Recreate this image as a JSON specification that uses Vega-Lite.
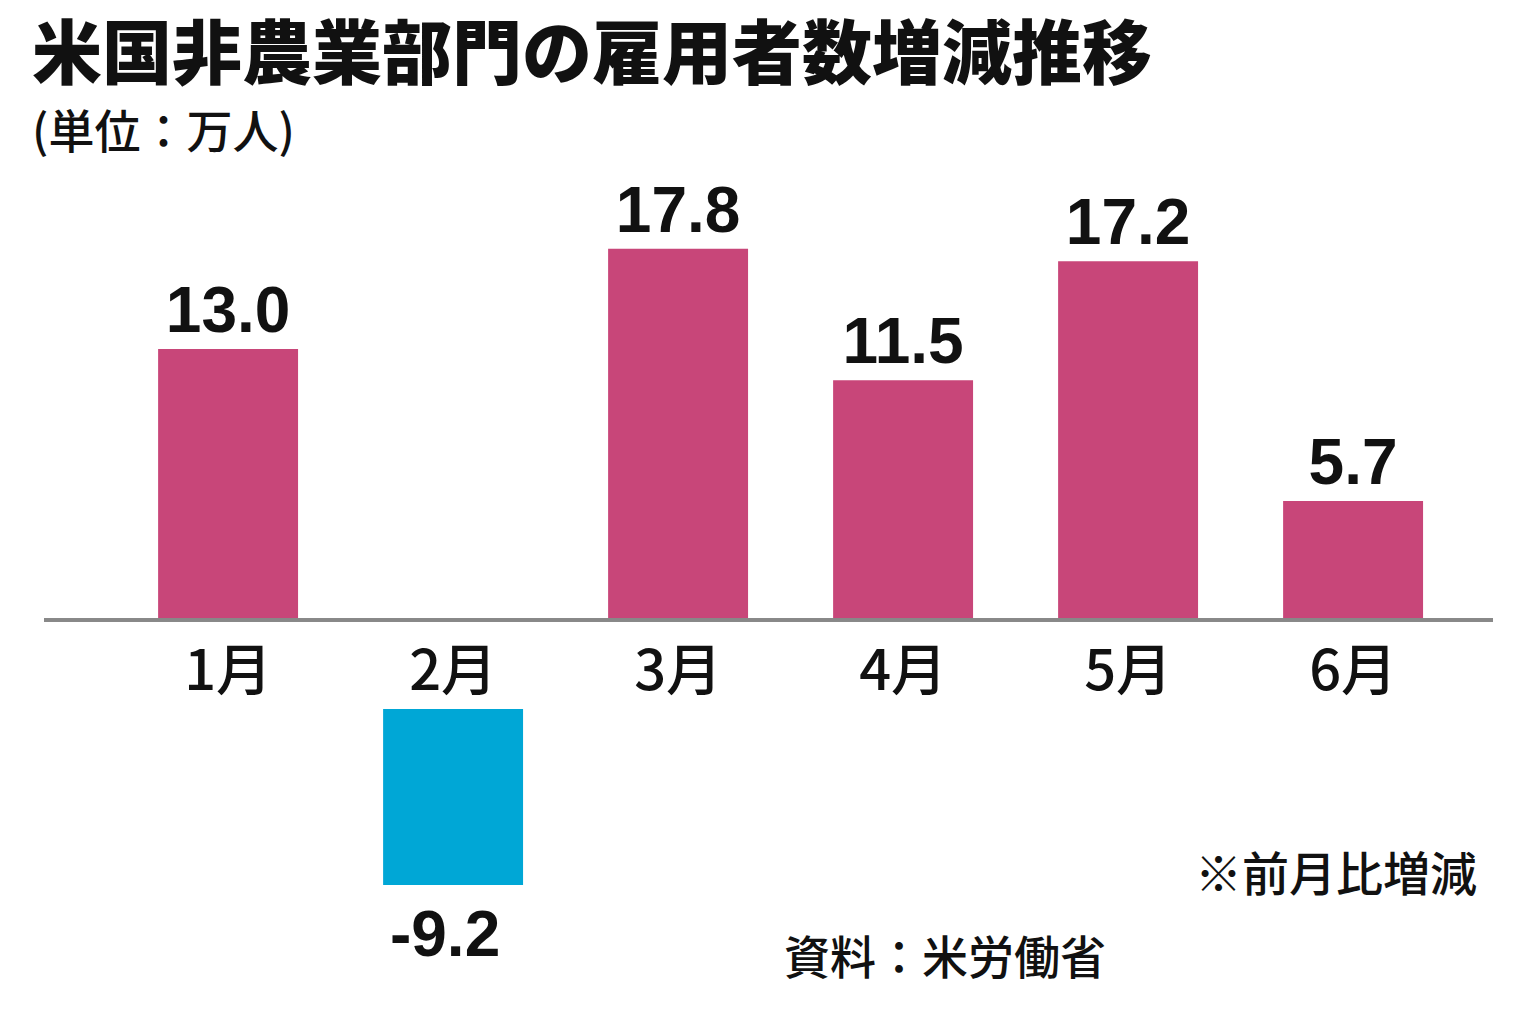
{
  "$schema": "https://vega.github.io/schema/vega-lite/v6.json",
  "width": 1449,
  "height": 854,
  "autosize": {"type": "none"},
  "padding": {"left": 44, "top": 170, "right": 43, "bottom": 0},
  "background": "#ffffff",
  "config": {
    "view": {"stroke": null},
    "locale": {"number": {"decimal": ".", "thousands": ",", "grouping": [3], "currency": ["", ""], "minus": "-"}}
  },
  "title": {
    "text": "米国非農業部門の雇用者数増減推移",
    "subtitle": "(単位：万人)",
    "anchor": "start",
    "frame": "group",
    "dx": -12,
    "offset": 12,
    "font": "Noto Sans CJK JP",
    "fontSize": 70,
    "fontWeight": 900,
    "color": "#111111",
    "subtitleFont": "Noto Sans CJK JP",
    "subtitleFontSize": 46,
    "subtitleFontWeight": 500,
    "subtitleColor": "#111111",
    "subtitlePadding": 18
  },
  "data": {
    "values": [
      {"month": "1月", "value": 13.0},
      {"month": "2月", "value": -9.2},
      {"month": "3月", "value": 17.8},
      {"month": "4月", "value": 11.5},
      {"month": "5月", "value": 17.2},
      {"month": "6月", "value": 5.7}
    ]
  },
  "encoding": {
    "x": {
      "field": "month",
      "type": "nominal",
      "sort": null,
      "axis": null,
      "scale": {"domain": ["1月", "2月", "3月", "4月", "5月", "6月"], "paddingInner": 0.378, "paddingOuter": 0.409, "align": 0.62}
    }
  },
  "layer": [
    {
      "transform": [{"filter": "datum.value > 0"}],
      "mark": {"type": "bar", "color": "#C84679"},
      "encoding": {
        "y": {"field": "value", "type": "quantitative", "axis": null, "scale": {"domain": [-19.38, 21.58], "nice": false, "zero": false}}
      }
    },
    {
      "transform": [{"filter": "datum.value > 0"}],
      "mark": {"type": "text", "font": "Liberation Sans", "fontSize": 64, "fontWeight": "bold", "color": "#111111", "baseline": "alphabetic", "dy": -17},
      "encoding": {
        "y": {"field": "value", "type": "quantitative", "axis": null, "scale": {"domain": [-19.38, 21.58], "nice": false, "zero": false}},
        "text": {"field": "value", "type": "quantitative", "format": ".1f"}
      }
    },
    {
      "transform": [{"filter": "datum.value < 0"}],
      "mark": {"type": "bar", "color": "#00A7D6"},
      "encoding": {
        "y": {"field": "value", "type": "quantitative", "axis": null, "scale": {"domain": [-16.47, 28.18], "nice": false, "zero": false}},
        "y2": {"datum": 0}
      }
    },
    {
      "transform": [{"filter": "datum.value < 0"}],
      "mark": {"type": "text", "font": "Liberation Sans", "fontSize": 64, "fontWeight": "bold", "color": "#111111", "baseline": "alphabetic", "dy": 71, "dx": -8},
      "encoding": {
        "y": {"field": "value", "type": "quantitative", "axis": null, "scale": {"domain": [-16.47, 28.18], "nice": false, "zero": false}},
        "text": {"field": "value", "type": "quantitative", "format": ".1f"}
      }
    },
    {
      "mark": {"type": "rule", "color": "#888888", "strokeWidth": 3},
      "encoding": {
        "x": null,
        "y": {"datum": 0, "type": "quantitative", "axis": null, "scale": {"domain": [-19.38, 21.58], "nice": false, "zero": false}}
      }
    },
    {
      "mark": {"type": "text", "font": "Noto Sans CJK JP", "fontSize": 56, "fontWeight": 500, "color": "#111111", "baseline": "alphabetic", "dy": 70},
      "encoding": {
        "y": {"datum": 0, "type": "quantitative", "axis": null, "scale": {"domain": [-19.38, 21.58], "nice": false, "zero": false}},
        "text": {"field": "month", "type": "nominal"}
      }
    },
    {
      "data": {"values": [{"month": "6月", "pos": -12.33, "note": "※前月比増減"}]},
      "mark": {"type": "text", "font": "Noto Sans CJK JP", "fontSize": 47, "fontWeight": 500, "color": "#111111", "baseline": "middle", "align": "right", "dx": 124},
      "encoding": {
        "y": {"field": "pos", "type": "quantitative", "axis": null, "scale": {"domain": [-19.38, 21.58], "nice": false, "zero": false}},
        "text": {"field": "note", "type": "nominal"}
      }
    },
    {
      "data": {"values": [{"month": "4月", "pos": -16.3, "note": "資料：米労働省"}]},
      "mark": {"type": "text", "font": "Noto Sans CJK JP", "fontSize": 46, "fontWeight": 500, "color": "#111111", "baseline": "middle", "align": "center", "dx": 42},
      "encoding": {
        "y": {"field": "pos", "type": "quantitative", "axis": null, "scale": {"domain": [-19.38, 21.58], "nice": false, "zero": false}},
        "text": {"field": "note", "type": "nominal"}
      }
    }
  ],
  "resolve": {"scale": {"y": "independent"}}
}
